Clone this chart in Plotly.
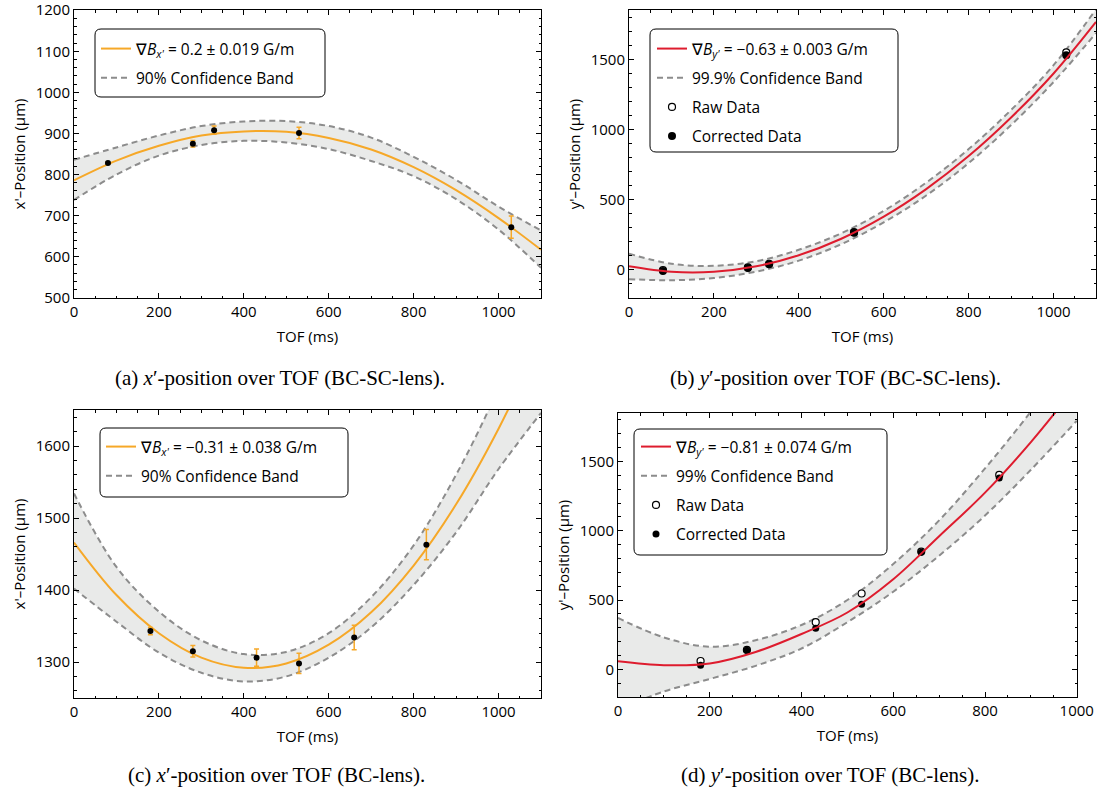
import plotly.graph_objects as go

W, H = 1102, 794
FONT = "Open Sans"
SERIF = "Liberation Serif"
ORANGE = "rgb(246,168,40)"
RED = "rgb(222,28,46)"
DASH = "rgb(140,140,140)"
FILL = "rgb(233,234,233)"

# ---------------- data ----------------
grid_1100 = [0, 100, 200, 300, 400, 500, 600, 700, 800, 900, 1000, 1100]
grid_1000 = [0, 100, 200, 300, 400, 500, 600, 700, 800, 900, 1000]

# (a) x'-position, BC-SC-lens
a_tof = [80, 280, 330, 530, 1030]
a_pos = [828, 875, 908, 901, 672]
a_err = [3, 8, 10, 14, 27]
a_fit = [786, 834, 870, 895, 905, 904, 889, 861, 818, 762, 694, 617]
a_up = [836, 866, 895, 918, 929, 930, 918, 890, 843, 787, 722, 664]
a_lo = [738, 800, 846, 872, 882, 878, 862, 833, 796, 740, 666, 573]

# (b) y'-position, BC-SC-lens
b_tof = [80, 280, 330, 530, 1030]
b_raw = [-5, 14, 40, 266, 1552]
b_cor = [-12, 10, 36, 262, 1532]
b_fit = [22, -17, -17, 22, 101, 219, 377, 574, 810, 1086, 1401, 1770]
b_up = [112, 40, 25, 58, 140, 258, 418, 620, 860, 1140, 1460, 1860]
b_lo = [-70, -78, -62, -16, 62, 180, 336, 528, 760, 1032, 1340, 1690]

# (c) x'-position, BC-lens
c_tof = [180, 280, 430, 530, 660, 830]
c_pos = [1343, 1315, 1306, 1298, 1334, 1463]
c_err = [5, 8, 12, 14, 17, 21]
c_fit = [1466, 1393, 1340, 1306, 1292, 1298, 1324, 1369, 1434, 1519, 1624, 1748]
c_up = [1534, 1432, 1370, 1330, 1311, 1314, 1340, 1390, 1462, 1560, 1680, 1820]
c_lo = [1402, 1356, 1313, 1285, 1273, 1280, 1306, 1348, 1407, 1480, 1568, 1646]

# (d) y'-position, BC-lens
d_tof = [180, 281, 431, 531, 661, 831]
d_raw = [60, 140, 340, 547, 850, 1403]
d_cor = [29, 137, 297, 470, 845, 1380]
d_fit = [58, 30, 42, 125, 255, 410, 650, 960, 1275, 1640, 2050]
d_up = [371, 230, 163, 210, 320, 500, 760, 1075, 1450, 1860, 2300]
d_lo = [-290, -160, -70, 25, 150, 340, 560, 820, 1110, 1440, 1794]

legend_a = ["\u2207<i>B</i><sub><i>x'</i></sub> = 0.2 \u00b1 0.019 G/m", "90% Confidence Band"]
legend_b = ["\u2207<i>B</i><sub><i>y'</i></sub> = \u22120.63 \u00b1 0.003 G/m", "99.9% Confidence Band", "Raw Data", "Corrected Data"]
legend_c = ["\u2207<i>B</i><sub><i>x'</i></sub> = \u22120.31 \u00b1 0.038 G/m", "90% Confidence Band"]
legend_d = ["\u2207<i>B</i><sub><i>y'</i></sub> = \u22120.81 \u00b1 0.074 G/m", "99% Confidence Band", "Raw Data", "Corrected Data"]

captions = [
    "(a) <i>x</i>\u2032-position over TOF (BC-SC-lens).",
    "(b) <i>y</i>\u2032-position over TOF (BC-SC-lens).",
    "(c) <i>x</i>\u2032-position over TOF (BC-lens).",
    "(d) <i>y</i>\u2032-position over TOF (BC-lens).",
]

fig = go.Figure()


def band(grid, lo, up, xa, ya, leg, name, dash_w=2):
    # shaded region
    fig.add_trace(go.Scatter(x=grid, y=lo, mode="lines", xaxis=xa, yaxis=ya,
                             line=dict(width=0, shape="spline"), showlegend=False, hoverinfo="skip"))
    fig.add_trace(go.Scatter(x=grid, y=up, mode="lines", xaxis=xa, yaxis=ya,
                             line=dict(width=0, shape="spline"), fill="tonexty", fillcolor=FILL,
                             showlegend=False, hoverinfo="skip"))
    # dashed borders
    fig.add_trace(go.Scatter(x=grid, y=lo, mode="lines", xaxis=xa, yaxis=ya,
                             line=dict(color=DASH, width=dash_w, dash="6px,4px", shape="spline"),
                             showlegend=False, hoverinfo="skip"))
    fig.add_trace(go.Scatter(x=grid, y=up, mode="lines", xaxis=xa, yaxis=ya,
                             line=dict(color=DASH, width=dash_w, dash="6px,4px", shape="spline"),
                             name=name, legend=leg, legendgroup=leg + "band", legendrank=2))


def fitline(grid, vals, color, xa, ya, leg, name):
    fig.add_trace(go.Scatter(x=grid, y=vals, mode="lines", xaxis=xa, yaxis=ya,
                             line=dict(color=color, width=2, shape="spline"),
                             name=name, legend=leg, legendgroup=leg + "fit", legendrank=1))


# (a)
band(grid_1100, a_lo, a_up, "x", "y", "legend", legend_a[1])
fitline(grid_1100, a_fit, ORANGE, "x", "y", "legend", legend_a[0])
fig.add_trace(go.Scatter(x=a_tof, y=a_pos, mode="markers", xaxis="x", yaxis="y",
                         marker=dict(color="black", size=6),
                         error_y=dict(type="data", array=a_err, color=ORANGE, thickness=1.5, width=2.5),
                         showlegend=False))

# (b)
band(grid_1100, b_lo, b_up, "x2", "y2", "legend2", legend_b[1])
fig.add_trace(go.Scatter(x=b_tof, y=b_raw, mode="markers", xaxis="x2", yaxis="y2",
                         marker=dict(color="white", size=7, line=dict(color="black", width=1.2)),
                         name=legend_b[2], legend="legend2", legendgroup="b_raw", legendrank=3))
fig.add_trace(go.Scatter(x=b_tof, y=b_cor, mode="markers", xaxis="x2", yaxis="y2",
                         marker=dict(color="black", size=8),
                         name=legend_b[3], legend="legend2", legendgroup="b_cor", legendrank=4))
fitline(grid_1100, b_fit, RED, "x2", "y2", "legend2", legend_b[0])

# (c)
band(grid_1100, c_lo, c_up, "x3", "y3", "legend3", legend_c[1])
fitline(grid_1100, c_fit, ORANGE, "x3", "y3", "legend3", legend_c[0])
fig.add_trace(go.Scatter(x=c_tof, y=c_pos, mode="markers", xaxis="x3", yaxis="y3",
                         marker=dict(color="black", size=6),
                         error_y=dict(type="data", array=c_err, color=ORANGE, thickness=1.5, width=2.5),
                         showlegend=False))

# (d)
band(grid_1000, d_lo, d_up, "x4", "y4", "legend4", legend_d[1])
fig.add_trace(go.Scatter(x=d_tof, y=d_raw, mode="markers", xaxis="x4", yaxis="y4",
                         marker=dict(color="white", size=7, line=dict(color="black", width=1.2)),
                         name=legend_d[2], legend="legend4", legendgroup="d_raw", legendrank=3))
fig.add_trace(go.Scatter(x=d_tof, y=d_cor, mode="markers", xaxis="x4", yaxis="y4",
                         marker=dict(color="black", size=7),
                         name=legend_d[3], legend="legend4", legendgroup="d_cor", legendrank=4))
fitline(grid_1000, d_fit, RED, "x4", "y4", "legend4", legend_d[0])


def px_dom_x(a, b):
    return [a / W, b / W]


def px_dom_y(top, bottom):
    return [1 - bottom / H, 1 - top / H]


def axis(dom, rng, dtick, minor, title, anchor, standoff):
    return dict(domain=dom, range=rng, dtick=dtick, tick0=0, anchor=anchor, automargin=False,
                showline=True, linecolor="black", linewidth=1, mirror="allticks",
                ticks="inside", ticklen=5, tickwidth=1, tickcolor="black",
                showgrid=False, zeroline=False, ticklabeloverflow="allow",
                minor=dict(ticks="inside", ticklen=2.5, tickcolor="black", dtick=minor, showgrid=False),
                tickfont=dict(family=FONT, size=15, color="black"),
                title=dict(text=title, font=dict(family=FONT, size=15, color="black"), standoff=standoff))


layout = dict(width=W, height=H, margin=dict(l=0, r=0, t=0, b=0, autoexpand=False),
              plot_bgcolor="white", paper_bgcolor="white", showlegend=True)

XT = "TOF (ms)"
layout["xaxis"] = axis(px_dom_x(74, 541), [0, 1100], 200, 50, XT, "y", 11)
layout["yaxis"] = axis(px_dom_y(10, 298), [499.5, 1200.5], 100, 20, "x'\u2013Position (\u03bcm)", "x", 6)
layout["xaxis2"] = axis(px_dom_x(629, 1096), [0, 1100], 200, 50, XT, "y2", 11)
layout["yaxis2"] = axis(px_dom_y(10, 298), [-205, 1855], 500, 100, "y'\u2013Position (\u03bcm)", "x2", 6)
layout["xaxis3"] = axis(px_dom_x(74, 541), [0, 1100], 200, 50, XT, "y3", 11)
layout["yaxis3"] = axis(px_dom_y(410, 698), [1250, 1650], 100, 20, "x'\u2013Position (\u03bcm)", "x3", 6)
layout["xaxis4"] = axis(px_dom_x(618, 1077), [0, 1000.5], 200, 50, XT, "y4", 11)
layout["yaxis4"] = axis(px_dom_y(413, 697), [-200, 1850], 500, 100, "y'\u2013Position (\u03bcm)", "x4", 6)


def leg(xpx, ypx):
    return dict(x=xpx / W, y=1 - ypx / H, xanchor="left", yanchor="top",
                bgcolor="rgba(0,0,0,0)", borderwidth=0, itemwidth=30,
                traceorder="grouped", tracegroupgap=6,
                font=dict(family=FONT, size=15.5, color="black"))


layout["legend"] = leg(96, 32)
layout["legend2"] = leg(652, 32)
layout["legend3"] = leg(101, 430)
layout["legend4"] = leg(636, 430)


def rounded(x0, x1, y0, y1, r=6):
    rx, ry = r / W, r / H
    X0, X1 = x0 / W, x1 / W
    Y0, Y1 = 1 - y1 / H, 1 - y0 / H
    return (f"M {X0+rx},{Y0} L {X1-rx},{Y0} Q {X1},{Y0} {X1},{Y0+ry} "
            f"L {X1},{Y1-ry} Q {X1},{Y1} {X1-rx},{Y1} L {X0+rx},{Y1} "
            f"Q {X0},{Y1} {X0},{Y1-ry} L {X0},{Y0+ry} Q {X0},{Y0} {X0+rx},{Y0} Z")


legend_boxes = [(95, 325, 29, 97), (650, 898, 29, 152), (100, 348, 428, 497), (634, 887, 429, 555)]
layout["shapes"] = [dict(type="path", xref="paper", yref="paper", path=rounded(*b),
                         line=dict(color="black", width=1), fillcolor="white", layer="below")
                    for b in legend_boxes]

cap_pos = [(280, 378), (835, 378), (276, 775), (830, 775)]
layout["annotations"] = [dict(text=t, x=p[0] / W, y=1 - p[1] / H, xref="paper", yref="paper",
                              showarrow=False, xanchor="center", yanchor="middle",
                              font=dict(family=SERIF, size=21, color="black"))
                         for t, p in zip(captions, cap_pos)]

fig.update_layout(**layout)
fig.write_html("out.html", config={"displayModeBar": False},
               post_script="document.body.style.margin='0px';document.body.style.overflow='hidden';")
